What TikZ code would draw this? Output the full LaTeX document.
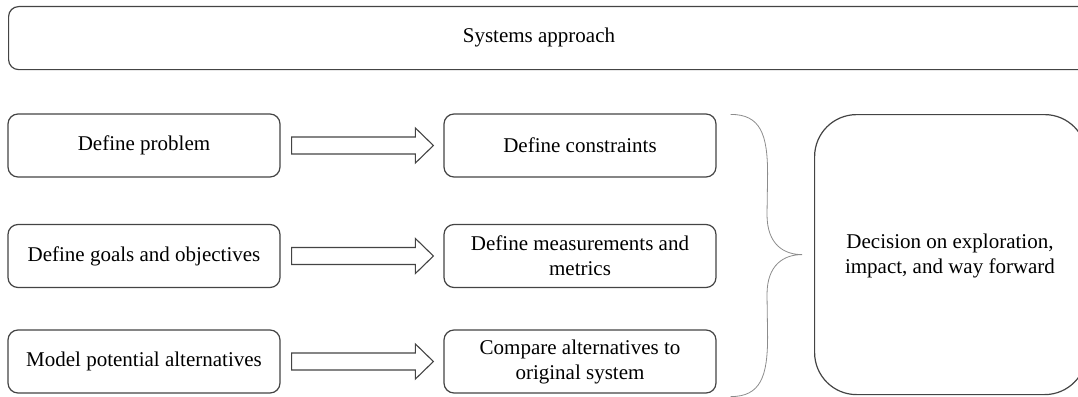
\documentclass[tikz,border=0pt]{standalone}
\usepackage{fontspec}
\setmainfont{Liberation Serif}
\usetikzlibrary{calc}
\begin{document}
\begin{tikzpicture}[x=1pt,y=-1pt,
  box/.style={draw=boxgray, line width=1.2pt, rounded corners=10pt, inner sep=0pt,
    minimum width=272pt, minimum height=63pt, align=center,
    font=\fontsize{21}{25}\selectfont},
  blockarrow/.style={draw=boxgray, line width=1.1pt, fill=white},
  bracestyle/.style={draw=bracegray, line width=0.8pt}]
\definecolor{boxgray}{HTML}{444444}
\definecolor{bracegray}{HTML}{8C8C8C}
\useasboundingbox (0,0) rectangle (1078,396);
\clip (0,0) rectangle (1078,396);

% header
\node[box, minimum width=1080pt, minimum height=63pt, anchor=north west] (sys) at (8,6) {};
\node[font=\fontsize{21}{25}\selectfont] (systxt) at (539,37.5) {Systems approach};

% left column
\node[box] (p1) at (144,145.5) {Define problem};
\node[box] (p2) at (144,256) {Define goals and objectives};
\node[box] (p3) at (144,361.5) {Model potential alternatives};

% middle column
\node[box] (c1) at (580,145.5) {Define constraints};
\node[box] (c2) at (580,256) {Define measurements and\\metrics};
\node[box] (c3) at (580,361.5) {Compare alternatives to\\original system};

% decision box
\node[box, rounded corners=42pt, minimum width=272pt, minimum height=280pt, anchor=north west] (dec) at (814,114) {};
\node[font=\fontsize{21}{25}\selectfont, align=center] (dectxt) at (950,256) {Decision on exploration,\\impact, and way forward};

% block arrows between the columns
\foreach \a/\b in {p1/c1,p2/c2,p3/c3}{
  \draw[blockarrow]
    ($(\a.east)+(11,-8.5)$) -- ($(\b.west)+(-28,-8.5)$) -- ($(\b.west)+(-28,-17.5)$)
    -- ($(\b.west)+(-10,0)$) -- ($(\b.west)+(-28,17.5)$) -- ($(\b.west)+(-28,8.5)$)
    -- ($(\a.east)+(11,8.5)$) -- cycle;
}

% curly brace gathering the middle column
\coordinate (bt) at ($(c1.north east)+(14,1)$);
\coordinate (bb) at ($(c3.south east)+(14,3)$);
\coordinate (tip) at ($(dec.west)+(-12,0)$);
\draw[bracestyle] (bt) .. controls ($(bt)+(30,0)$) and ($(bt)+(37,20)$) .. ($(bt)+(37,60)$)
  -- ($(tip)+(-35,-40)$) .. controls ($(tip)+(-35,-10)$) and ($(tip)+(-18,0)$) .. (tip)
  .. controls ($(tip)+(-18,0)$) and ($(tip)+(-35,10)$) .. ($(tip)+(-35,40)$)
  -- ($(bb)+(37,-60)$) .. controls ($(bb)+(37,-20)$) and ($(bb)+(30,0)$) .. (bb);
\end{tikzpicture}
\end{document}
